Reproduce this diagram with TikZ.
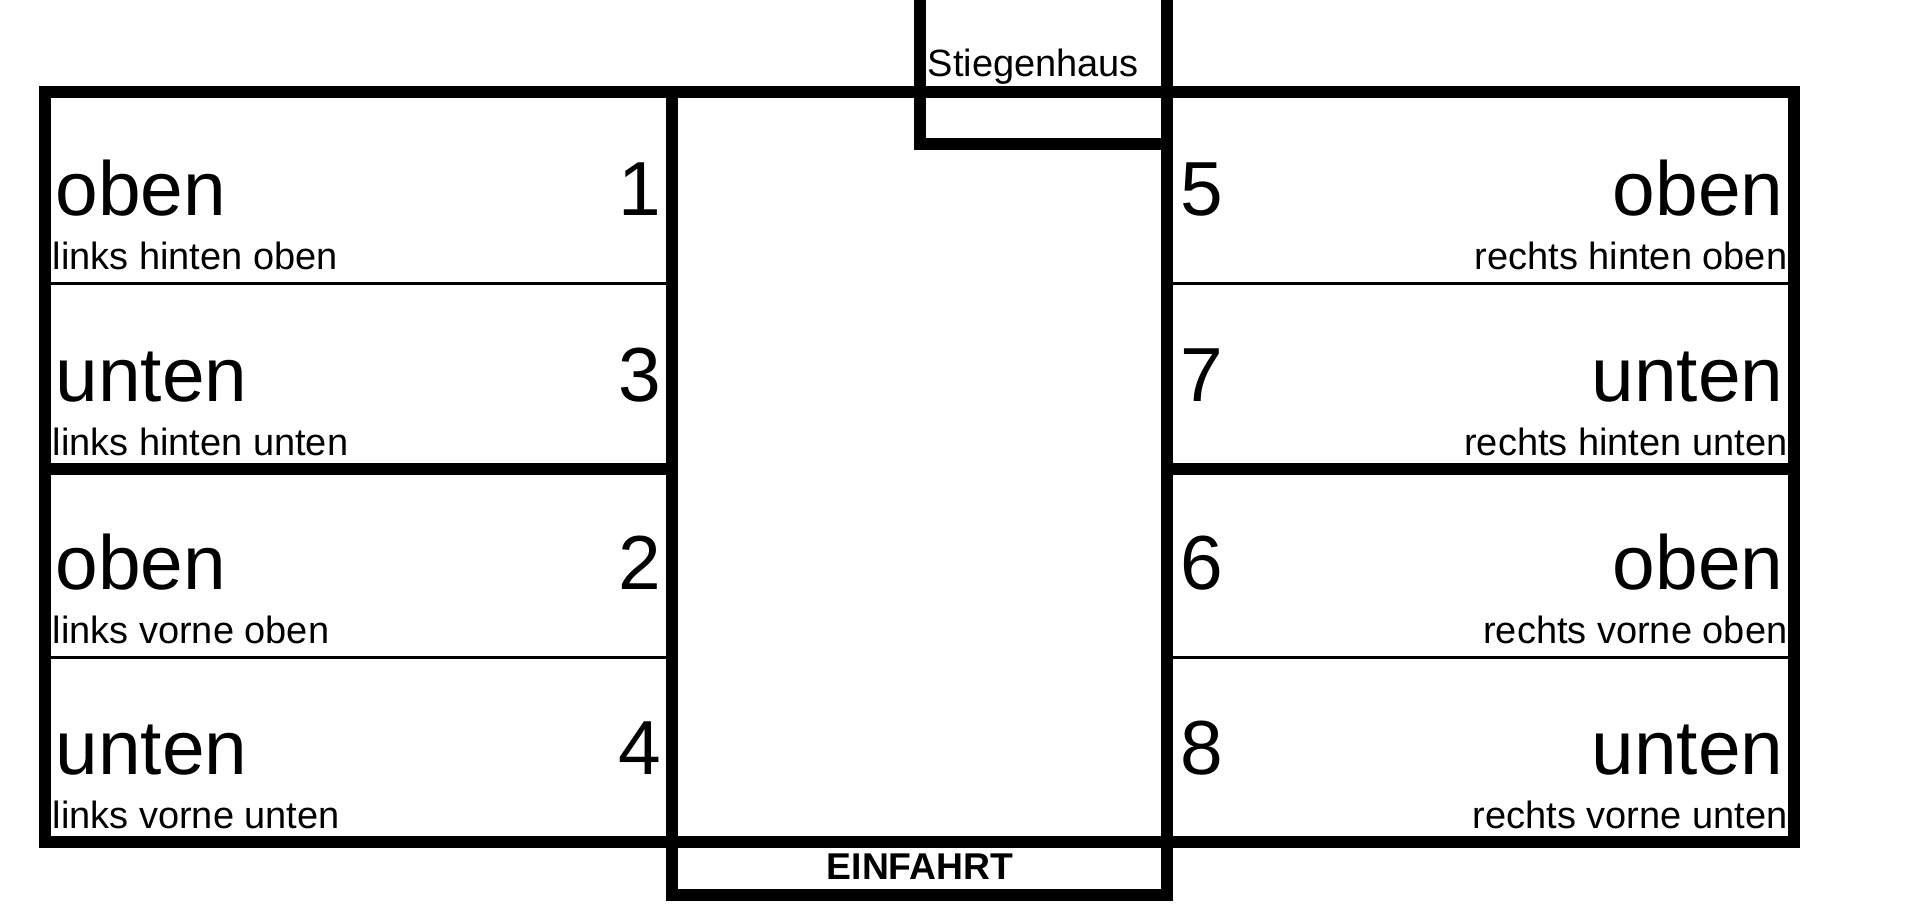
\documentclass[tikz,border=0pt]{standalone}
\usepackage{fontspec}
\setmainfont{Liberation Sans}
\usepackage{tikz}
\usetikzlibrary{positioning}
\tikzset{
    wall/.style={line width=0.125cm},
    divider/.style={line width=0.03cm},
    level/.style={inner sep=0pt, font=\fontsize{21.8}{24}\selectfont},
    spotnum/.style={inner sep=0pt, font=\fontsize{21.8}{24}\selectfont},
    place/.style={inner sep=0pt, font=\fontsize{10.8}{12}\selectfont},
    sign/.style={inner sep=0pt, font=\fontsize{10.6}{12}\selectfont\bfseries}
}

\begin{document}
\begin{tikzpicture} [x=0.01cm, y=-0.01cm]
    \useasboundingbox (0,0) rectangle (1920,924);

    % Outer walls
    \draw[wall] (45,92) rectangle (1794,842);

    % Driveway with EINFAHRT
    \draw[wall] (672,92) -- (672,895) -- (1167,895) -- (1167,92);

    % Stiegenhaus
    \draw[wall] (920,0) -- (920,144) -- (1167,144) -- (1167,0);

    % Row dividers
    \draw[wall] (45,469) -- (672,469);
    \draw[wall] (1167,469) -- (1794,469);
    \draw[divider] (45,283) -- (672,283);
    \draw[divider] (45,657) -- (672,657);
    \draw[divider] (1167,283) -- (1794,283);
    \draw[divider] (1167,657) -- (1794,657);

    % Labels
    \node[place, anchor=base west] (stiegenhaus) at (927,76) {Stiegenhaus};
    \node[sign, anchor=base] (einfahrt) at (920,879) {EINFAHRT};

    % Left spots
    \node[level, anchor=base west] (lho) at (55,215) {oben};
    \node[spotnum, anchor=base east] (spot1) at (662,215) {1};
    \node[place, anchor=base west] (lho_text) at (52,269) {links hinten oben};

    \node[level, anchor=base west] (lhu) at (55,401) {unten};
    \node[spotnum, anchor=base east] (spot3) at (662,401) {3};
    \node[place, anchor=base west] (lhu_text) at (52,455) {links hinten unten};

    \node[level, anchor=base west] (lvo) at (55,589) {oben};
    \node[spotnum, anchor=base east] (spot2) at (662,589) {2};
    \node[place, anchor=base west] (lvo_text) at (52,643) {links vorne oben};

    \node[level, anchor=base west] (lvu) at (55,774) {unten};
    \node[spotnum, anchor=base east] (spot4) at (662,774) {4};
    \node[place, anchor=base west] (lvu_text) at (52,828) {links vorne unten};

    % Right spots
    \node[spotnum, anchor=base west] (spot5) at (1180,215) {5};
    \node[level, anchor=base east] (rho) at (1784,215) {oben};
    \node[place, anchor=base east] (rho_text) at (1788,269) {rechts hinten oben};

    \node[spotnum, anchor=base west] (spot7) at (1180,401) {7};
    \node[level, anchor=base east] (rhu) at (1784,401) {unten};
    \node[place, anchor=base east] (rhu_text) at (1788,455) {rechts hinten unten};

    \node[spotnum, anchor=base west] (spot6) at (1180,589) {6};
    \node[level, anchor=base east] (rvo) at (1784,589) {oben};
    \node[place, anchor=base east] (rvo_text) at (1788,643) {rechts vorne oben};

    \node[spotnum, anchor=base west] (spot8) at (1180,774) {8};
    \node[level, anchor=base east] (rvu) at (1784,774) {unten};
    \node[place, anchor=base east] (rvu_text) at (1788,828) {rechts vorne unten};
\end{tikzpicture}
\end{document}
